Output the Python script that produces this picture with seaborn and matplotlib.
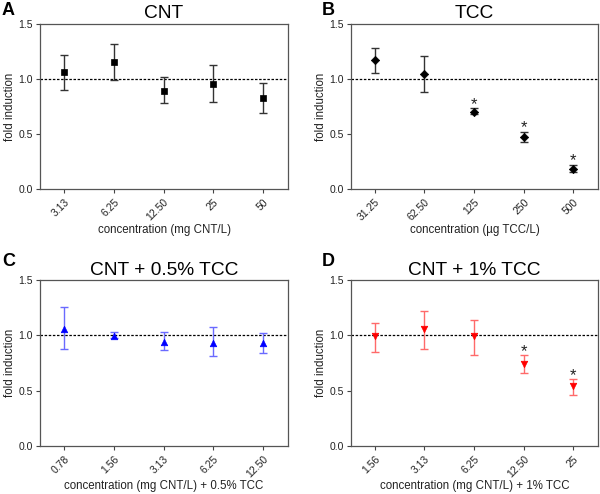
import matplotlib
matplotlib.use("Agg")
import matplotlib.pyplot as plt
import seaborn as sns
import pandas as pd
import numpy as np

sns.set_theme(style="white")
plt.rcParams['font.family'] = ['Liberation Sans', 'DejaVu Sans']

# ---- data ----
labels_a = ["3.13", "6.25", "12.50", "25", "50"]
mean_a = [1.06, 1.155, 0.895, 0.955, 0.825]
lo_a = [0.90, 0.99, 0.78, 0.79, 0.69]
hi_a = [1.215, 1.32, 1.015, 1.125, 0.965]
sig_a = [False, False, False, False, False]

labels_b = ["31.25", "62.50", "125", "250", "500"]
mean_b = [1.17, 1.045, 0.702, 0.472, 0.186]
lo_b = [1.058, 0.88, 0.678, 0.428, 0.155]
hi_b = [1.282, 1.212, 0.732, 0.517, 0.221]
sig_b = [False, False, True, True, True]

labels_c = ["0.78", "1.56", "3.13", "6.25", "12.50"]
mean_c = [1.06, 0.997, 0.942, 0.93, 0.927]
lo_c = [0.875, 0.978, 0.866, 0.809, 0.842]
hi_c = [1.253, 1.026, 1.032, 1.072, 1.020]
sig_c = [False, False, False, False, False]

labels_d = ["1.56", "3.13", "6.25", "12.50", "25"]
mean_d = [0.99, 1.06, 0.99, 0.745, 0.54]
lo_d = [0.848, 0.878, 0.821, 0.658, 0.465]
hi_d = [1.114, 1.219, 1.141, 0.818, 0.601]
sig_d = [False, False, False, True, True]

titles = ["CNT", "TCC", "CNT + 0.5% TCC", "CNT + 1% TCC"]
xlabels = ["concentration (mg CNT/L)", "concentration (\u00b5g TCC/L)",
           "concentration (mg CNT/L) + 0.5% TCC", "concentration (mg CNT/L) + 1% TCC"]
letters = ["A", "B", "C", "D"]

W, H = 600, 494
fig = plt.figure(figsize=(W / 100, H / 100), dpi=100)

def rect(l, t, r, b):
    return [l / W, 1 - b / H, (r - l) / W, (b - t) / H]

rects = [rect(40, 24, 288, 189), rect(351, 24, 598, 189),
         rect(40, 280, 288, 446), rect(351, 280, 598, 446)]
letter_pos = [(2, 2), (322, 2), (2, 253), (322, 253)]
title_y = [14, 14, 270, 270]
xlabel_y = [230, 230, 486, 486]
ylabel_x = [10, 321, 10, 321]

panels = [
    (labels_a, mean_a, lo_a, hi_a, sig_a, "s", "black", "#333333"),
    (labels_b, mean_b, lo_b, hi_b, sig_b, "D", "black", "#333333"),
    (labels_c, mean_c, lo_c, hi_c, sig_c, "^", "#0000ff", "#6a6aff"),
    (labels_d, mean_d, lo_d, hi_d, sig_d, "v", "#ff0000", "#ff6a6a"),
]

for i, (labs, m, lo, hi, sig, mk, col, ecol) in enumerate(panels):
    ax = fig.add_axes(rects[i])
    df = pd.DataFrame({"x": np.arange(len(labs)), "y": m})
    m_arr = np.array(m); lo_arr = np.array(lo); hi_arr = np.array(hi)
    ax.axhline(1.0, color="black", lw=0.9, ls=(0, (2.0, 1.3)), zorder=1)
    ax.errorbar(df["x"], df["y"], yerr=[m_arr - lo_arr, hi_arr - m_arr], fmt="none",
                ecolor=ecol, elinewidth=1.0, capsize=2.6, capthick=1.0, zorder=2)
    msize = 22 if mk != "D" else 18
    sns.scatterplot(data=df, x="x", y="y", marker=mk, color=col, s=msize,
                    edgecolor=col, linewidth=0.5, ax=ax, zorder=3, legend=False)
    for j, s in enumerate(sig):
        if s:
            ax.annotate("*", xy=(j, hi[j]), xytext=(0, -2.5), textcoords="offset points",
                        ha="center", va="bottom", fontsize=12, color="#222222")
    ax.set_xlim(-0.48, 4.5)
    ax.set_ylim(0, 1.5)
    ax.set_yticks([0, 0.5, 1.0, 1.5])
    ax.set_yticklabels(["0.0", "0.5", "1.0", "1.5"])
    ax.set_xticks(range(len(labs)))
    ax.set_xticklabels(labs, rotation=45, ha="right", rotation_mode="anchor")
    ax.tick_params(axis="both", which="both", direction="out", length=3, width=0.8,
                   color="#444444", labelsize=7.5, pad=2, bottom=True, left=True,
                   labelcolor="#222222")
    ax.tick_params(axis="x", pad=3)
    for sp in ax.spines.values():
        sp.set_color("#555555")
        sp.set_linewidth(0.9)
    ax.set_xlabel(xlabels[i], fontsize=8.3, color="#222222")
    ax.set_ylabel("fold induction", fontsize=8.3, color="#222222")
    # place axis labels at reference pixel positions (axes-fraction coords)
    x_lab_frac = ((H - xlabel_y[i]) / H - rects[i][1]) / rects[i][3]
    ax.xaxis.set_label_coords(0.5, x_lab_frac)
    ax.xaxis.label.set_va("center")
    ax.yaxis.set_label_coords((ylabel_x[i] / W - rects[i][0]) / rects[i][2], 0.5)
    ax.yaxis.label.set_va("center")
    cx = rects[i][0] + rects[i][2] / 2
    fig.text(cx, 1 - title_y[i] / H, titles[i], ha="center", va="center",
             fontsize=13.8, color="black")
    fig.text(letter_pos[i][0] / W, 1 - letter_pos[i][1] / H, letters[i],
             ha="left", va="top", fontsize=13, fontweight="bold", color="black")

fig.savefig("out.png", dpi=100)
